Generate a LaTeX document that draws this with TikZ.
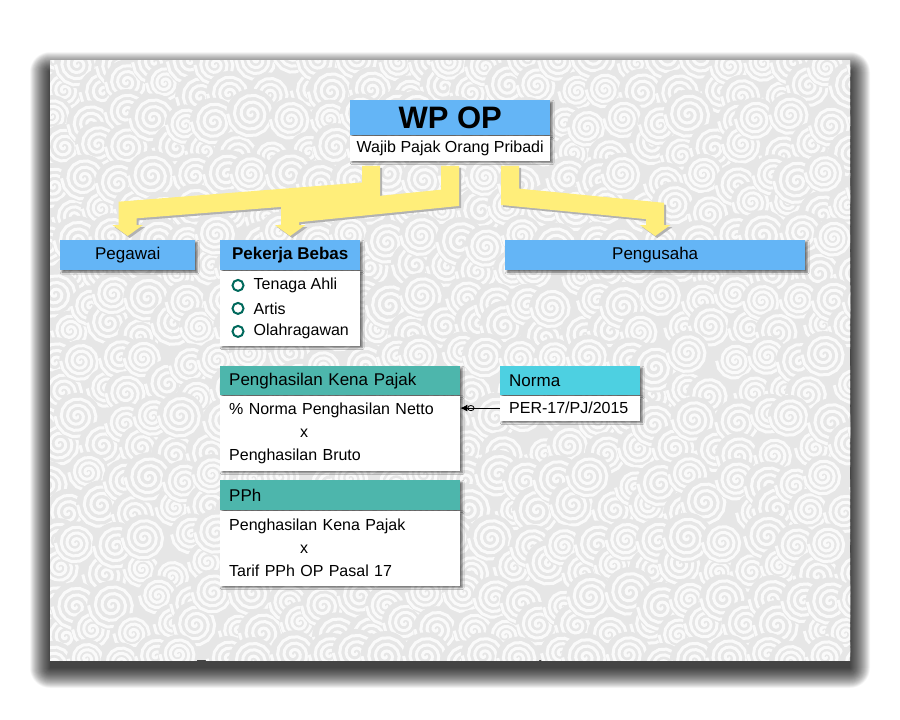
\documentclass[tikz,border=0pt]{standalone}
\usepackage{fontspec}
\setmainfont{Liberation Sans}
\usepackage{xcolor}
\usetikzlibrary{arrows.meta}
\usetikzlibrary{calc}
\usetikzlibrary{positioning}
\usetikzlibrary{shadows.blur}

\definecolor{hblue}{HTML}{64B5F6}
\definecolor{hteal}{HTML}{4DB6AC}
\definecolor{hcyan}{HTML}{4DD0E1}
\definecolor{ayellow}{HTML}{FFEE7A}
\definecolor{ringteal}{HTML}{00695C}
\definecolor{panelgray}{HTML}{E6E6E6}
\definecolor{swirl}{HTML}{FAFAFA}

\newcommand{\txtsize}{\fontsize{16}{23}\selectfont}
\newcommand{\hdrsize}{\fontsize{17}{23}\selectfont}

\begin{document}
\begin{tikzpicture}
[
	x = 1pt, y = -1pt,
	every node/.style = {inner sep = 0pt, font = \txtsize},
	boxshadow/.style = {blur shadow = {shadow xshift = 2pt, shadow yshift = -2pt, shadow blur radius = 2pt, shadow opacity = 55}},
	head/.style = {boxshadow, minimum height = 30pt, anchor = north west, font = \hdrsize},
	sub/.style = {boxshadow, fill = white},
	ring/.style = {circle, draw = ringteal, line width = 2pt, minimum size = 11pt},
	conn/.style = {line width = 0.8pt, -{Circle[open, length = 7pt, width = 6pt] Latex[length = 7pt, width = 7pt]}},
	yarrow/.style = {draw = ayellow, line width = 18pt, line join = miter, shorten < = 5pt, shorten > = 4pt, -{Triangle[width = 30pt, length = 11pt]},
		preaction = {draw = black!30, line width = 18pt, -{Triangle[width = 30pt, length = 11pt]}, transform canvas = {shift = {(2pt, -2pt)}}}},
]

	\useasboundingbox (0,0) rectangle (900,720);
	\fill [white] (0,0) rectangle (900,720);

	% panel shadow
	\foreach \r in {0,0.5,...,20}
		\fill [black, opacity = 0.026, rounded corners = \r pt] (50 - \r, 72 - \r) rectangle (850 + \r, 668 + \r);

	% panel
	\fill [panelgray] (50,60) rectangle (850,660);
	\begin{scope}
		\clip (50,60) rectangle (850,660);
		\pgfmathsetseed{11}
		\foreach \i in {0,...,24}
			\foreach \j in {0,...,20}
			{
				\pgfmathsetmacro{\cx}{50 + 34*\i + 17*mod(\j,2) + 9*rand}
				\pgfmathsetmacro{\cy}{60 + 30*\j + 8*rand}
				\pgfmathsetmacro{\rs}{6 + 0.8*rand}
				\fill [panelgray] (\cx,\cy) circle (3.5*\rs + 1.5);
				\draw [swirl, line width = 3pt] plot [domain = 0:1260, samples = 50, variable = \a] ({\cx + \a/360*\rs*cos(\a)}, {\cy + \a/360*\rs*sin(\a)});
			}
	\end{scope}

	% top
	\node (wp) [head, fill = hblue, minimum width = 200pt, minimum height = 35pt, font = \fontsize{31}{31}\selectfont\bfseries] at (350,100) {WP OP};
	\node (wpdesc) [sub, minimum width = 200pt, minimum height = 25pt, below = 0pt of wp] {Wajib Pajak Orang Pribadi};

	% groups
	\node (peg) [head, fill = hblue, minimum width = 135pt] at (60,240) {Pegawai};
	\node (pb) [head, fill = hblue, minimum width = 140pt, font = \hdrsize\bfseries] at (220,240) {Pekerja Bebas};
	\node (pblist) [sub, minimum width = 140pt, minimum height = 75pt, below = 0pt of pb] {};
	\node (peng) [head, fill = hblue, minimum width = 300pt] at (505,240) {Pengusaha};

	\foreach \t [count = \k] in {Tenaga Ahli, Artis, Olahragawan}
	{
		\node (ring\k) [ring] at ($(pblist.north west) + (18, 23*\k - 8)$) {};
		\node (item\k) [right = 9pt of ring\k] {\t};
	}

	% arrows
	\draw [yarrow] ([xshift = -79pt] wpdesc.south) -- ++(0,30) -- ($(peg.north) + (0,-30)$) -- (peg.north);
	\draw [yarrow] (wpdesc.south) -- ++(0,37) -- ($(pb.north) + (0,-26)$) -- (pb.north);
	\draw [yarrow] ([xshift = 60pt] wpdesc.south) -- ++(0,36) -- ($(peng.north) + (0,-29)$) -- (peng.north);

	% penghasilan kena pajak
	\node (pkp) [head, fill = hteal, minimum width = 240pt, minimum height = 29pt, text width = 222pt, align = left] at (220,366) {Penghasilan Kena Pajak};
	\node (pkpbody) [sub, below = 0pt of pkp, minimum width = 240pt, minimum height = 75pt, text width = 222pt, align = left]
		{\% Norma Penghasilan Netto\\ \hspace*{71pt}x\\ Penghasilan Bruto};

	% pph
	\node (pph) [head, fill = hteal, minimum width = 240pt, minimum height = 30pt, text width = 222pt, align = left] at (220,480) {PPh};
	\node (pphbody) [sub, below = 0pt of pph, minimum width = 240pt, minimum height = 75pt, text width = 222pt, align = left]
		{Penghasilan Kena Pajak\\ \hspace*{71pt}x\\ Tarif PPh OP Pasal 17};

	% norma
	\node (norma) [head, fill = hcyan, minimum width = 140pt, minimum height = 29pt, text width = 122pt, align = left] at (500,366) {Norma};
	\node (normabody) [sub, below = 0pt of norma, minimum width = 140pt, minimum height = 25pt, text width = 122pt, align = left] {PER-17/PJ/2015};

	\draw [conn] (normabody.west) -- (normabody.west -| pkpbody.east);

\end{tikzpicture}
\end{document}
